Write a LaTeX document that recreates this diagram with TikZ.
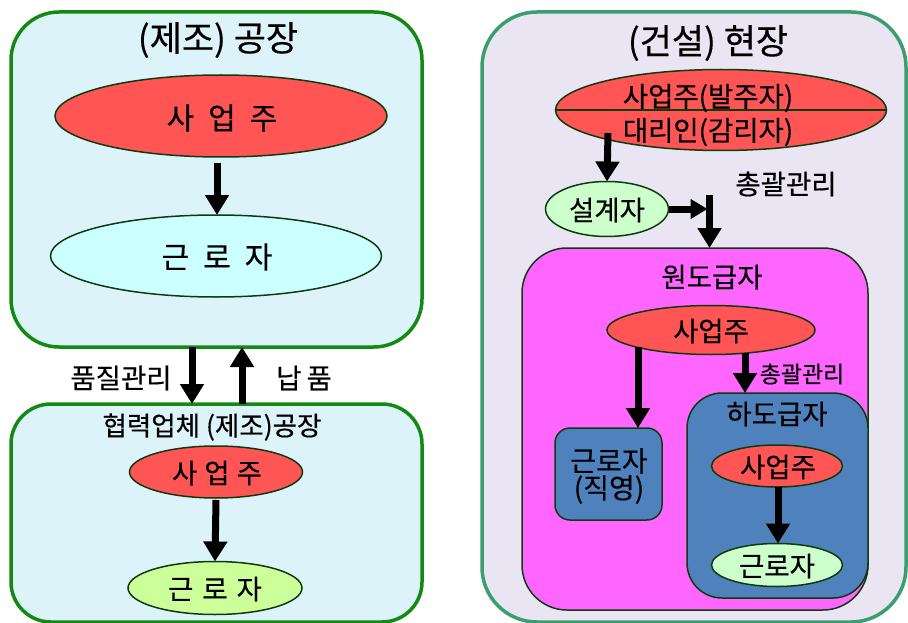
\documentclass[tikz,border=0pt]{standalone}
\usepackage{fontspec}
\setmainfont{Noto Sans CJK KR}[FakeBold=0.4]
\usetikzlibrary{shapes.geometric,arrows.meta}

\definecolor{paleblue}{HTML}{DDF3FA}
\definecolor{framegreen}{HTML}{148A14}
\definecolor{ownerred}{HTML}{FF5555}
\definecolor{palecyan}{HTML}{CCFFFF}
\definecolor{lime}{HTML}{CCFF99}
\definecolor{lavender}{HTML}{EAE5F3}
\definecolor{seagreen}{HTML}{3A9E6E}
\definecolor{mint}{HTML}{CCFFCC}
\definecolor{pinkbox}{HTML}{FF66FF}
\definecolor{steel}{HTML}{4F81BD}
\definecolor{edge}{HTML}{0F3A0F}

\tikzset{
  site/.style={draw, inner sep=0pt, outer sep=0pt},
  oval/.style={ellipse, draw=edge, line width=1.5pt, inner sep=0pt, outer sep=0pt},
  fat/.style={line width=7pt, -{Triangle[length=20pt,width=23pt]}},
  slim/.style={line width=7pt, -{Triangle[length=17pt,width=19pt]}},
  lbl/.style={inner sep=0pt, font=\fontsize{27.5}{30}\selectfont},
  head/.style={inner sep=0pt, font=\fontsize{35}{38}\selectfont},
}

\begin{document}
\begin{tikzpicture}[x=1pt,y=-1pt]
\useasboundingbox (0,0) rectangle (908,623);

% ---------- manufacturing plant ----------
\node[site, draw=framegreen, fill=paleblue, line width=3.5pt, rounded corners=48pt,
      minimum width=411pt, minimum height=335pt] (plant) at (216.5,179.5) {};
\node[head] (plantT) at (218,40) {(제조) 공장};
\node[oval, fill=ownerred, minimum width=332pt, minimum height=82pt] (ownA) at (221,116) {};
\node[lbl, font=\fontsize{30}{33}\selectfont] (ownAT) at (222,118) {사\hspace{14pt}업\hspace{14pt}주};
\node[oval, fill=palecyan, minimum width=331pt, minimum height=82pt] (wrkA) at (216,256) {};
\node[lbl, font=\fontsize{30}{33}\selectfont] (wrkAT) at (217,257) {근\hspace{14pt}로\hspace{14pt}자};
\draw[fat] ([xshift=-4pt,yshift=-6pt]ownA.south) -- ([xshift=1pt]wrkA.north);

% ---------- partner plant ----------
\node[site, draw=framegreen, fill=paleblue, line width=3.5pt, rounded corners=40pt,
      minimum width=411pt, minimum height=218pt] (partner) at (216.5,513) {};
\node[lbl, font=\fontsize{26.5}{29}\selectfont] (partnerT) at (212,427) {협력업체 (제조)공장};
\node[oval, fill=ownerred, minimum width=173pt, minimum height=52pt] (ownB) at (216,472) {};
\node[lbl] (ownBT) at (217,473) {사\hspace{7pt}업\hspace{7pt}주};
\node[oval, fill=lime, minimum width=174pt, minimum height=53pt] (wrkB) at (215,588) {};
\node[lbl] (wrkBT) at (215,589) {근\hspace{9pt}로\hspace{9pt}자};
\draw[fat] ([yshift=-2pt]ownB.south) -- (wrkB.north);

% flows between the two plants
\draw[fat] ([xshift=-24.5pt]plant.south) -- ([xshift=-24.5pt]partner.north);
\draw[fat] ([xshift=25.5pt]partner.north) -- ([xshift=25.5pt]plant.south);
\node[lbl] (qc) at (121,378) {품질관리};
\node[lbl] (dlv) at (304,378) {납\hspace{5pt}품};

% ---------- construction site ----------
\node[site, draw=seagreen, fill=lavender, line width=3.5pt, rounded corners=55pt,
      minimum width=424pt, minimum height=610pt] (site) at (694,317) {};
\node[head] (siteT) at (708,43) {(건설) 현장};

\node[oval, fill=ownerred, minimum width=331pt, minimum height=81pt] (client) at (721,110) {};
\draw[edge, line width=1.5pt] (client.west) -- (client.east);
\node[lbl] (clientA) at (708,98) {사업주(발주자)};
\node[lbl] (clientB) at (708,132) {대리인(감리자)};

\node[oval, fill=mint, minimum width=123pt, minimum height=55pt] (design) at (607,209) {};
\node[lbl] (designT) at (607,210) {설계자};
\draw[fat] (design.north |- client.center) ++(1,23) -- (design.north);

\coordinate (join) at (709.5,195);
\node[lbl] (ctrlTop) at (786,184) {총괄관리};

% prime contractor
\node[site, draw=edge, fill=pinkbox, line width=1.5pt, rounded corners=45pt,
      minimum width=346pt, minimum height=362pt] (prime) at (695,429) {};
\node[lbl] (primeT) at (712,277) {원도급자};
\node[oval, fill=ownerred, minimum width=208pt, minimum height=49pt] (ownP) at (711,330) {};
\node[lbl] (ownPT) at (711,331) {사업주};

\draw[slim] (design.east) -- ([xshift=-2pt]design.east -| join);
\draw[fat] (join) -- (join |- prime.north);

% direct workers
\node[site, draw=edge, fill=steel, line width=1.5pt, rounded corners=15pt,
      minimum width=107pt, minimum height=92pt] (direct) at (608.5,474) {};
\node[lbl, font=\fontsize{28}{27}\selectfont, align=center] (directT) at (609,476) {근로자\\(직영)};

% subcontractor
\node[site, draw=edge, fill=steel, line width=1.5pt, rounded corners=35pt,
      minimum width=181pt, minimum height=205pt] (sub) at (777.5,495.5) {};
\node[lbl] (subT) at (777,414) {하도급자};
\node[oval, fill=ownerred, minimum width=131pt, minimum height=42pt] (ownS) at (777,466) {};
\node[lbl] (ownST) at (778,467) {사업주};
\node[oval, fill=mint, minimum width=131pt, minimum height=43pt] (wrkS) at (777,565) {};
\node[lbl] (wrkST) at (777,566) {근로자};
\draw[fat] ([xshift=1pt]ownS.south) -- ([xshift=1pt]wrkS.north);

\draw[fat] ([xshift=-73pt,yshift=-17pt]ownP.center) coordinate (pd) -- (pd |- direct.north);
\draw[fat] ([xshift=34pt,yshift=-23pt]ownP.center) coordinate (ps) -- (ps |- sub.north);
\node[lbl, font=\fontsize{23}{26}\selectfont] (ctrlSub) at (802,374) {총괄관리};

\end{tikzpicture}
\end{document}
